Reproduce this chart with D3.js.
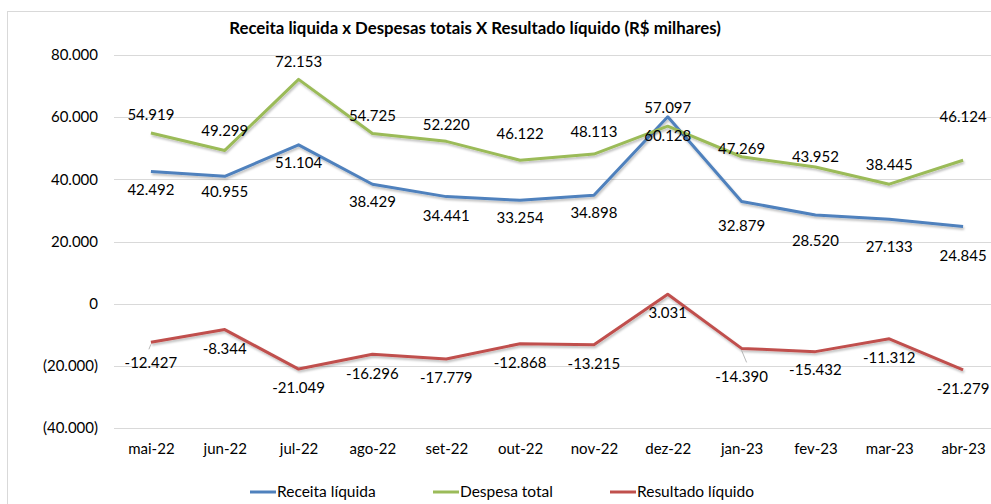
<!DOCTYPE html>
<html>
<head>
<meta charset="utf-8">
<script src="https://cdn.jsdelivr.net/npm/d3@7"></script>
<style>
  body { margin: 0; background: #fff; }
  svg { display: block; font-family: Lato, "Open Sans", sans-serif; }
</style>
</head>
<body>
<div id="chart"></div>
<script>
// months on the x axis
var months = ["mai-22", "jun-22", "jul-22", "ago-22", "set-22", "out-22",
              "nov-22", "dez-22", "jan-23", "fev-23", "mar-23", "abr-23"];

// R$ milhares
var receita = [42492, 40955, 51104, 38429, 34441, 33254, 34898, 60128, 32879, 28520, 27133, 24845];
var despesa = [54919, 49299, 72153, 54725, 52220, 46122, 48113, 57097, 47269, 43952, 38445, 46124];
var resultado = [-12427, -8344, -21049, -16296, -17779, -12868, -13215, 3031, -14390, -15432, -11312, -21279];

var yTicks = [-40000, -20000, 0, 20000, 40000, 60000, 80000];

var seriesNames = ["Receita líquida", "Despesa total", "Resultado líquido"];

// label nudges (px, vertical) roughly as placed in the original sheet
var despesaDy = [-18, -20, -18, -18, -17, -27, -22, -18, -8, -10, -19, -44];
var receitaDy = [18, 15, 18, 18, 19, 17, 18, 19, 24, 26, 27, 29];
var resultadoDy = [20, 19, 19, 19, 19, 19, 19, 19, 28, 18, 19, 19];

var WIDTH = 991, HEIGHT = 504;
var colors = ["#4f81bd", "#9bbb59", "#c0504d"];

var br = d3.formatLocale({decimal: ",", thousands: ".", grouping: [3], currency: ["R$", ""]});
var fmt = br.format(",d");
function tickFmt(v) { return v < 0 ? "(" + fmt(-v) + ")" : fmt(v); }

var svg = d3.select("#chart").append("svg")
    .attr("width", WIDTH)
    .attr("height", HEIGHT);

var defs = svg.append("defs");
var f = defs.append("filter").attr("id", "shadow")
    .attr("x", "-5%").attr("y", "-20%").attr("width", "110%").attr("height", "140%");
f.append("feDropShadow").attr("dx", 1).attr("dy", 2).attr("stdDeviation", 1.2)
    .attr("flood-color", "#000").attr("flood-opacity", 0.25);

// chart frame
svg.append("rect")
    .attr("x", 7.5).attr("y", 11.5)
    .attr("width", 1000).attr("height", 520)
    .attr("fill", "none").attr("stroke", "#d9d9d9");

svg.append("text")
    .attr("x", 475).attr("y", 34)
    .attr("text-anchor", "middle")
    .style("font-weight", "bold")
    .style("font-size", "16.8px")
    .attr("fill", "#000")
    .text("Receita liquida x Despesas totais X Resultado líquido (R$ milhares)");

var x = d3.scalePoint().domain(months).range([114, 1000]).padding(0.5);
var y = d3.scaleLinear().domain([-40000, 80000]).range([428, 55]);

// grid
svg.append("g").selectAll("line")
  .data(yTicks)
  .join("line")
    .attr("x1", 114).attr("x2", WIDTH)
    .attr("y1", d => Math.round(y(d)) + 0.5)
    .attr("y2", d => Math.round(y(d)) + 0.5)
    .attr("stroke", "#d9d9d9");

// y axis labels
var yAxis = svg.append("g")
    .attr("transform", "translate(104,0)")
    .call(d3.axisLeft(y).tickValues(yTicks).tickFormat(tickFmt).tickSize(0).tickPadding(6));
yAxis.select(".domain").remove();
yAxis.selectAll("text").style("font-size", "15px").attr("fill", "#000")
    .style("font-family", "Lato, sans-serif");

// x axis labels
var xAxis = svg.append("g")
    .attr("transform", "translate(0,440)")
    .call(d3.axisBottom(x).tickSize(0).tickPadding(3));
xAxis.select(".domain").remove();
xAxis.selectAll("text").style("font-size", "15px").attr("fill", "#000")
    .style("font-family", "Lato, sans-serif");

var line = d3.line().x((d, i) => x(months[i])).y(d => y(d));

var allSeries = [receita, despesa, resultado];
var dys = [receitaDy, despesaDy, resultadoDy];

allSeries.forEach(function(s, k) {
  svg.append("path")
    .datum(s)
    .attr("d", line)
    .attr("fill", "none")
    .attr("stroke", colors[k])
    .attr("stroke-width", 3)
    .attr("stroke-linejoin", "round")
    .attr("filter", "url(#shadow)");
});

// leader lines for the labels that were dragged away
svg.append("line")
    .attr("x1", x("jan-23")).attr("y1", y(resultado[8]) + 2)
    .attr("x2", x("jan-23") + 5).attr("y2", y(resultado[8]) + 14)
    .attr("stroke", "#a6a6a6").attr("stroke-width", 0.8);
svg.append("line")
    .attr("x1", x("mai-22")).attr("y1", y(resultado[0]) + 2)
    .attr("x2", x("mai-22") - 2).attr("y2", y(resultado[0]) + 7)
    .attr("stroke", "#a6a6a6").attr("stroke-width", 0.8);

allSeries.forEach(function(s, k) {
  svg.append("g").selectAll("text")
    .data(s)
    .join("text")
      .attr("x", (d, i) => x(months[i]))
      .attr("y", (d, i) => y(d) + dys[k][i])
      .attr("dy", "0.35em")
      .attr("text-anchor", "middle")
      .style("font-size", "15px")
      .attr("fill", "#000")
      .text(d => fmt(d).replace("−", "-"));
});

// legend
var legendX = [250, 433, 610];
var legend = svg.append("g").selectAll("g")
  .data(seriesNames)
  .join("g")
    .attr("transform", (d, i) => `translate(${legendX[i]},492)`);
legend.append("line")
    .attr("x1", 0).attr("x2", 26)
    .attr("stroke", (d, i) => colors[i])
    .attr("stroke-width", 3);
legend.append("text")
    .attr("x", 27).attr("dy", "0.35em")
    .style("font-size", "15.5px")
    .attr("fill", "#000")
    .text(d => d);
</script>
</body>
</html>
